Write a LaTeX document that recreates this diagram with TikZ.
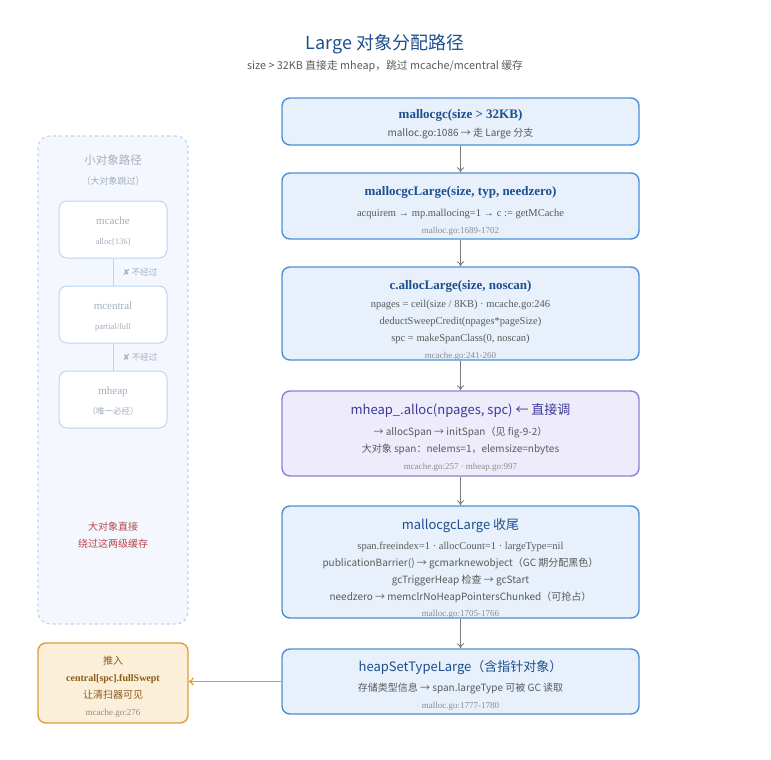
\documentclass[tikz,border=0pt]{standalone}
\usepackage{fontspec}
\setmainfont{Liberation Serif}
\newfontfamily\cjk{Noto Sans CJK SC}
\newfontfamily\symfont{DejaVu Sans}
\usetikzlibrary{positioning,arrows.meta}

\definecolor{stagefill}{HTML}{E7F0FB}
\definecolor{stageline}{HTML}{4A90D9}
\definecolor{navy}{HTML}{1D4F8F}
\definecolor{bodygray}{HTML}{5A5A5A}
\definecolor{refgray}{HTML}{8C8C8C}
\definecolor{purplefill}{HTML}{EEECFB}
\definecolor{purpleline}{HTML}{8B7FDC}
\definecolor{purpletext}{HTML}{3A3A9A}
\definecolor{orangefill}{HTML}{FCEFD9}
\definecolor{orangeline}{HTML}{E39A3B}
\definecolor{brown}{HTML}{8A5A1A}
\definecolor{ghostfill}{HTML}{F4F8FE}
\definecolor{ghostline}{HTML}{BCD6F2}
\definecolor{ghosttext}{HTML}{A3AEBE}
\definecolor{redtext}{HTML}{B5474A}
\definecolor{flowgray}{HTML}{7A7A7A}

% text looks
\newcommand{\fnttl}{\fontsize{13}{17}\selectfont\bfseries\color{navy}}
\newcommand{\fnsans}{\cjk\fontsize{13}{17}\selectfont}
\newcommand{\fnbody}{\cjk\fontsize{10}{17}\selectfont\color{bodygray}}
\newcommand{\fncode}{\fontsize{10.5}{17}\selectfont\color{bodygray}}
\newcommand{\fnref}{\fontsize{9}{17}\selectfont\color{refgray}}

\begin{document}
\begin{tikzpicture}[x=1pt, y=-1pt,
    stage/.style = {draw=stageline, fill=stagefill, line width=1.4pt, rounded corners=8pt,
                    minimum width=357pt, inner sep=0pt},
    direct/.style = {stage, draw=purpleline, fill=purplefill},
    pushbox/.style = {stage, draw=orangeline, fill=orangefill, minimum width=150pt},
    stagetext/.style = {align=center, inner sep=0pt, font=\fontsize{10}{17}\selectfont},
    panel/.style = {draw=ghostline, fill=ghostfill, line width=1.2pt, dashed, rounded corners=12pt,
                    minimum width=150pt, minimum height=488pt},
    ghost/.style = {draw=ghostline, fill=white, line width=1pt, rounded corners=8pt,
                    minimum width=108pt, minimum height=57pt},
    ghosttxt/.style = {align=center, inner sep=0pt, font=\fontsize{10}{20}\selectfont},
    flow/.style = {draw=flowgray, line width=0.9pt, -{To[length=5pt,width=7pt]}},
    pushflow/.style = {draw=orangeline, line width=1.2pt, -{To[length=5pt,width=8pt]}}]

  \useasboundingbox (0,0) rectangle (771,760);

  \node (title) at (385,44) {\cjk\fontsize{18}{20}\selectfont\color{navy}Large 对象分配路径};
  \node (subtitle) at (385,66) {\cjk\fontsize{10.8}{12}\selectfont\color{bodygray}size > 32KB 直接走 mheap，跳过 mcache/mcentral 缓存};

  % main path
  \node[stage, minimum height=47pt] (mallocgc) at (460.5,121.5) {};
  \node[stagetext, below=12pt of mallocgc.north] (mallocgc-txt)
    {\fnttl mallocgc(size > 32KB)\\[1pt]
     \fnbody malloc.go:1086 → 走 Large 分支};

  \node[stage, minimum height=66pt] (large) at (460.5,206) {};
  \node[stagetext, below=13.5pt of large.north] (large-txt)
    {\fnttl mallocgcLarge(size, typ, needzero)\\[4pt]
     \fncode acquirem → mp.mallocing=1 → c := getMCache\\
     \fnref malloc.go:1689-1702};

  \node[stage, minimum height=93pt] (alloclarge) at (460.5,313.5) {};
  \node[stagetext, below=13.5pt of alloclarge.north] (alloclarge-txt)
    {\fnttl c.allocLarge(size, noscan)\\[1pt]
     \fncode npages = ceil(size / 8KB) · mcache.go:246\\
     \fncode deductSweepCredit(npages*pageSize)\\
     \fncode spc = makeSpanClass(0, noscan)\\
     \fnref mcache.go:241-260};

  \node[direct, minimum height=85pt] (heapalloc) at (460.5,433.5) {};
  \node[stagetext, below=13pt of heapalloc.north] (heapalloc-txt)
    {\fnsans\color{purpletext}mheap\_.alloc(npages, spc) ← 直接调\\[4pt]
     \fnbody → allocSpan → initSpan（见 fig-9-2）\\
     \fnbody 大对象 span：nelems=1，elemsize=nbytes\\
     \fnref mcache.go:257 · mheap.go:997};

  \node[stage, minimum height=112pt] (finish) at (460.5,562) {};
  \node[stagetext, below=13pt of finish.north] (finish-txt)
    {\fnsans\color{navy}mallocgcLarge 收尾\\[3pt]
     \fncode span.freeindex=1 · allocCount=1 · largeType=nil\\
     \fnbody publicationBarrier() → gcmarknewobject（GC 期分配黑色）\\
     \fnbody gcTriggerHeap 检查 → gcStart\\
     \fnbody needzero → memclrNoHeapPointersChunked（可抢占）\\[-0.5pt]
     \fnref malloc.go:1705-1766};

  \node[stage, minimum height=65pt] (settype) at (460.5,681.5) {};
  \node[stagetext, below=12pt of settype.north] (settype-txt)
    {\fnsans\color{navy}heapSetTypeLarge（含指针对象）\\[3pt]
     \fnbody 存储类型信息 → span.largeType 可被 GC 读取\\
     \fnref malloc.go:1777-1780};

  \node[pushbox, minimum height=80pt] (fullswept) at (113,683) {};
  \node[stagetext, below=13.5pt of fullswept.north] (fullswept-txt)
    {\fnbody\color{brown}推入\\
     \fontsize{10}{17}\selectfont\bfseries\color{brown}central[spc].fullSwept\\
     \fnbody\color{brown}让清扫器可见\\
     \fnref mcache.go:276};

  \draw[flow] (mallocgc) -- (large);
  \draw[flow] (large) -- (alloclarge);
  \draw[flow] (alloclarge) -- (heapalloc);
  \draw[flow] (heapalloc) -- (finish);
  \draw[flow] (finish) -- (settype);
  \draw[pushflow] (settype.west) -- (settype.west -| fullswept.east);

  % small object path (skipped)
  \node[panel] (smallpath) at (113,380) {};
  \node (smalltitle) at (113,160) {\cjk\fontsize{11.5}{14}\selectfont\color{ghosttext}小对象路径};
  \node (smallnote) at (113,181) {\cjk\fontsize{9}{12}\selectfont\color{ghosttext}（大对象跳过）};

  \node[ghost] (mcache) at (113,229.5) {};
  \node[ghosttxt] (mcache-txt) at ([yshift=-2pt]mcache)
    {\fontsize{11}{20}\selectfont\color{ghosttext}mcache\\ \fontsize{8.5}{20}\selectfont\color{ghosttext}alloc[136]};
  \node[ghost] (mcentral) at (113,314.5) {};
  \node[ghosttxt] (mcentral-txt) at ([yshift=-2pt]mcentral)
    {\fontsize{11}{20}\selectfont\color{ghosttext}mcentral\\ \fontsize{8.5}{20}\selectfont\color{ghosttext}partial/full};
  \node[ghost] (mheap) at (113,399.5) {};
  \node[ghosttxt] (mheap-txt) at ([yshift=-2pt]mheap)
    {\fontsize{11}{20}\selectfont\color{ghosttext}mheap\\ \cjk\fontsize{8.5}{20}\selectfont\color{ghosttext}（唯一必经）};

  \draw[ghostline, line width=1pt] (mcache) -- node[right=6pt, text=ghosttext, font=\cjk\fontsize{8.5}{10}\selectfont] {{\symfont ✘} 不经过} (mcentral);
  \draw[ghostline, line width=1pt] (mcentral) -- node[right=6pt, text=ghosttext, font=\cjk\fontsize{8.5}{10}\selectfont] {{\symfont ✘} 不经过} (mheap);

  \node[align=center, text=redtext, font=\cjk\fontsize{10}{17}\selectfont] (bypass) at (113,535.5)
    {大对象直接\\绕过这两级缓存};
\end{tikzpicture}
\end{document}
